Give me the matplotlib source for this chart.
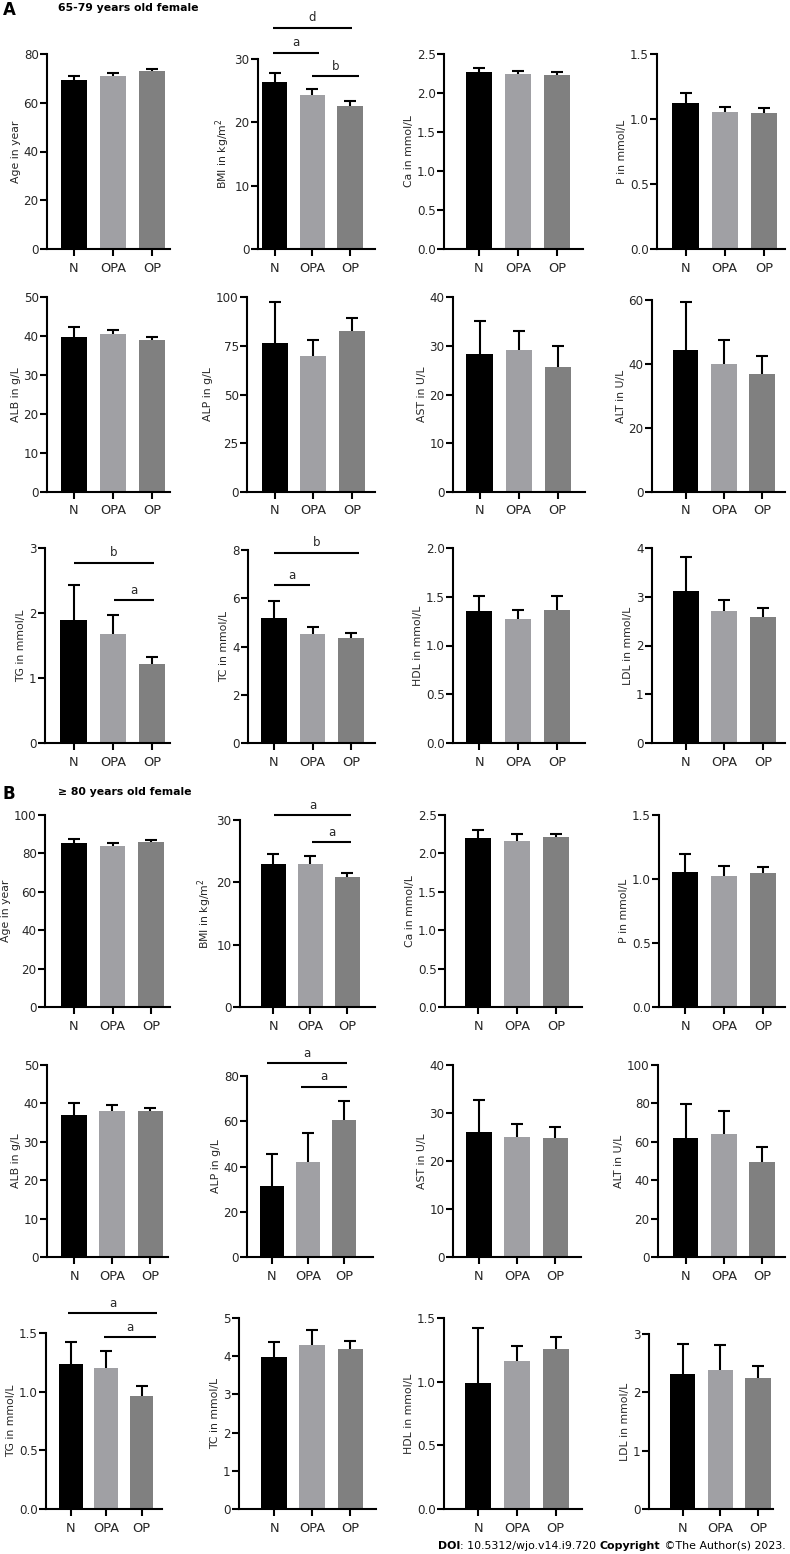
import numpy as np
import matplotlib
matplotlib.use('Agg')
import matplotlib.pyplot as plt

W, H = 790, 1554
groups = ['N', 'OPA', 'OP']
bar_colors = ['#000000', '#a0a0a4', '#808080']

# ---------------- Panel A: 65-79 years old female (mean, upper error end) ----
A_age = [69.3, 71.1, 73.2];   A_age_up = [71.1, 72.3, 74.0]
A_bmi = [26.4, 24.3, 22.6];   A_bmi_up = [27.8, 25.2, 23.4]
A_ca = [2.265, 2.244, 2.231]; A_ca_up = [2.325, 2.282, 2.269]
A_p = [1.12, 1.051, 1.044];   A_p_up = [1.20, 1.095, 1.085]
A_alb = [39.7, 40.6, 38.9];   A_alb_up = [42.3, 41.6, 39.7]
A_alp = [76.6, 69.7, 82.4];   A_alp_up = [97.4, 78.1, 89.4]
A_ast = [28.3, 29.2, 25.6];   A_ast_up = [35.1, 33.0, 29.9]
A_alt = [44.5, 40.1, 36.8];   A_alt_up = [59.3, 47.5, 42.4]
A_tg = [1.887, 1.682, 1.21];  A_tg_up = [2.426, 1.974, 1.318]
A_tc = [5.2, 4.51, 4.35];     A_tc_up = [5.88, 4.79, 4.55]
A_hdl = [1.35, 1.275, 1.368]; A_hdl_up = [1.504, 1.368, 1.504]
A_ldl = [3.125, 2.70, 2.585]; A_ldl_up = [3.815, 2.94, 2.776]

# ---------------- Panel B: >= 80 years old female ----------------------------
B_age = [85.3, 84.1, 86.0];   B_age_up = [87.6, 85.5, 87.1]
B_bmi = [22.96, 22.96, 20.8]; B_bmi_up = [24.5, 24.24, 21.46]
B_ca = [2.205, 2.162, 2.214]; B_ca_up = [2.305, 2.253, 2.253]
B_p = [1.058, 1.022, 1.048];  B_p_up = [1.193, 1.105, 1.094]
B_alb = [37.0, 37.9, 37.9];   B_alb_up = [40.0, 39.6, 38.9]
B_alp = [31.2, 42.2, 60.4];   B_alp_up = [45.6, 55.0, 69.0]
B_ast = [26.1, 25.1, 24.7];   B_ast_up = [32.8, 27.7, 27.0]
B_alt = [61.9, 63.9, 49.7];   B_alt_up = [79.5, 76.1, 57.2]
B_tg = [1.233, 1.199, 0.966]; B_tg_up = [1.423, 1.347, 1.051]
B_tc = [3.98, 4.30, 4.19];    B_tc_up = [4.365, 4.68, 4.41]
B_hdl = [0.991, 1.161, 1.257]; B_hdl_up = [1.422, 1.284, 1.354]
B_ldl = [2.31, 2.385, 2.24];  B_ldl_up = [2.83, 2.81, 2.45]

# significance bars: (start, end, height, letter)
A_bmi_sig = [(-0.04, 2.05, 34.9, 'd'), (-0.04, 1.18, 31.0, 'a'), (0.99, 2.24, 27.3, 'b')]
A_tg_sig = [(0.01, 2.05, 2.77, 'b'), (1.03, 2.05, 2.195, 'a')]
A_tc_sig = [(0.0, 2.21, 7.89, 'b'), (0.0, 0.94, 6.55, 'a')]
B_bmi_sig = [(0.03, 2.09, 30.8, 'a'), (1.05, 2.09, 26.4, 'a')]
B_alp_sig = [(-0.14, 2.08, 85.6, 'a'), (0.81, 2.08, 75.3, 'a')]
B_tg_sig = [(-0.09, 2.44, 1.67, 'a'), (0.94, 2.41, 1.466, 'a')]

# axes boxes in pixels (left, right, top, bottom) and x-limits
panels = [
    ('Age in year', A_age, A_age_up, [0, 20, 40, 60, 80], (47, 170, 54, 249), (-0.69, 2.46), None),
    ('BMI in kg/m$^2$', A_bmi, A_bmi_up, [0, 10, 20, 30], (258, 375, 59, 249), (-0.44, 2.66), A_bmi_sig),
    ('Ca in mmol/L', A_ca, A_ca_up, [0, 0.5, 1.0, 1.5, 2.0, 2.5], (444, 583, 54, 249), (-0.9, 2.67), None),
    ('P in mmol/L', A_p, A_p_up, [0, 0.5, 1.0, 1.5], (657, 785, 54, 249), (-0.73, 2.54), None),
    ('ALB in g/L', A_alb, A_alb_up, [0, 10, 20, 30, 40, 50], (47, 170, 297, 492), (-0.69, 2.46), None),
    ('ALP in g/L', A_alp, A_alp_up, [0, 25, 50, 75, 100], (247, 375, 297, 492), (-0.71, 2.59), None),
    ('AST in U/L', A_ast, A_ast_up, [0, 10, 20, 30, 40], (453, 585, 297, 492), (-0.68, 2.7), None),
    ('ALT in U/L', A_alt, A_alt_up, [0, 20, 40, 60], (652, 785, 300, 492), (-0.88, 2.6), None),
    ('TG in mmol/L', A_tg, A_tg_up, [0, 1, 2, 3], (45, 170, 548, 743), (-0.73, 2.46), A_tg_sig),
    ('TC in mmol/L', A_tc, A_tc_up, [0, 2, 4, 6, 8], (248, 375, 550, 743), (-0.675, 2.62), A_tc_sig),
    ('HDL in mmol/L', A_hdl, A_hdl_up, [0, 0.5, 1.0, 1.5, 2.0], (453, 585, 548, 743), (-0.67, 2.72), None),
    ('LDL in mmol/L', A_ldl, A_ldl_up, [0, 1, 2, 3, 4], (652, 785, 548, 743), (-0.87, 2.57), None),
    ('Age in year', B_age, B_age_up, [0, 20, 40, 60, 80, 100], (45, 170, 815, 1007), (-0.75, 2.49), None),
    ('BMI in kg/m$^2$', B_bmi, B_bmi_up, [0, 10, 20, 30], (240, 375, 820, 1007), (-0.89, 2.74), B_bmi_sig),
    ('Ca in mmol/L', B_ca, B_ca_up, [0, 0.5, 1.0, 1.5, 2.0, 2.5], (445, 582, 815, 1007), (-0.86, 2.67), None),
    ('P in mmol/L', B_p, B_p_up, [0, 0.5, 1.0, 1.5], (659, 785, 815, 1007), (-0.68, 2.57), None),
    ('ALB in g/L', B_alb, B_alb_up, [0, 10, 20, 30, 40, 50], (47, 168, 1065, 1257), (-0.71, 2.46), None),
    ('ALP in g/L', B_alp, B_alp_up, [0, 20, 40, 60, 80], (247, 373, 1076, 1257), (-0.69, 2.8), B_alp_sig),
    ('AST in U/L', B_ast, B_ast_up, [0, 10, 20, 30, 40], (453, 581, 1065, 1257), (-0.68, 2.67), None),
    ('ALT in U/L', B_alt, B_alt_up, [0, 20, 40, 60, 80, 100], (658, 785, 1065, 1257), (-0.72, 2.6), None),
    ('TG in mmol/L', B_tg, B_tg_up, [0, 0.5, 1.0, 1.5], (46, 162, 1333, 1509), (-0.71, 2.58), B_tg_sig),
    ('TC in mmol/L', B_tc, B_tc_up, [0, 1, 2, 3, 4, 5], (239, 376, 1318, 1509), (-0.92, 2.67), None),
    ('HDL in mmol/L', B_hdl, B_hdl_up, [0, 0.5, 1.0, 1.5], (444, 582, 1318, 1509), (-0.88, 2.68), None),
    ('LDL in mmol/L', B_ldl, B_ldl_up, [0, 1, 2, 3], (649, 773, 1334, 1509), (-0.89, 2.4), None),
]

plt.rcParams['font.family'] = ['DejaVu Sans']
fig = plt.figure(figsize=(W / 100, H / 100), dpi=100)
txt_col = '#262626'
lw = 1.5

for ylabel, mean, up, yticks, box, xlim, sig in panels:
    L, R, T, B = box
    ax = fig.add_axes([L / W, 1 - B / H, (R - L) / W, (B - T) / H])
    x = np.arange(len(groups))
    mean = np.asarray(mean)
    up = np.asarray(up)
    ax.bar(x, mean, width=0.67, color=bar_colors, zorder=2)
    eb = ax.errorbar(x, mean, yerr=[np.zeros_like(mean), up - mean], fmt='none',
                     ecolor='black', elinewidth=lw, capsize=4, capthick=lw, zorder=3)
    eb[1][0].set_visible(False)
    ax.set_xlim(*xlim)
    ax.set_ylim(0, yticks[-1])
    ax.set_yticks(yticks)
    if any(float(t) != int(t) for t in yticks):
        ax.set_yticklabels(['%.1f' % t for t in yticks])
    else:
        ax.set_yticklabels(['%d' % t for t in yticks])
    ax.set_xticks(x)
    ax.set_xticklabels(groups)
    for s in ['top', 'right']:
        ax.spines[s].set_visible(False)
    for s in ['left', 'bottom']:
        ax.spines[s].set_linewidth(lw)
    ax.tick_params(axis='both', length=5, width=lw, color='black')
    ax.tick_params(axis='y', labelsize=8.6, pad=1, labelcolor=txt_col)
    ax.tick_params(axis='x', labelsize=9.3, pad=4, labelcolor=txt_col)
    ax.set_ylabel(ylabel, fontsize=7.8, color=txt_col, labelpad=2)
    ax.patch.set_alpha(0)
    if sig:
        for x0, x1, yv, lab in sig:
            ax.plot([x0, x1], [yv, yv], color='black', lw=lw, clip_on=False,
                    solid_capstyle='butt')
            ax.annotate(lab, xy=((x0 + x1) / 2, yv), xytext=(0, 2.5),
                        textcoords='offset points', ha='center', va='bottom',
                        fontsize=8.5, color=txt_col, annotation_clip=False)

bg = fig.add_axes([0, 0, 1, 1], zorder=-1)
bg.axis('off')
bg.set_xlim(0, W)
bg.set_ylim(H, 0)
bg.text(3, 10, 'A', fontsize=12, fontweight='bold', va='center', ha='left')
bg.text(58, 8, '65-79 years old female', fontsize=7.8, fontweight='bold', va='center', ha='left')
bg.text(3, 794, 'B', fontsize=12, fontweight='bold', va='center', ha='left')
bg.text(58, 792, '\u2265 80 years old female', fontsize=7.8, fontweight='bold', va='center', ha='left')

fs_doi = 7.9
t1 = bg.text(438, 1549, 'DOI', fontsize=fs_doi, fontweight='bold', ha='left', va='baseline')
t2 = bg.annotate(': 10.5312/wjo.v14.i9.720 ', xy=(1, 0), xycoords=t1, fontsize=fs_doi,
                 ha='left', va='bottom')
t3 = bg.annotate('Copyright', xy=(1, 0), xycoords=t2, fontsize=fs_doi, fontweight='bold',
                 ha='left', va='bottom')
t4 = bg.annotate(' \u00a9The Author(s) 2023.', xy=(1, 0), xycoords=t3, fontsize=fs_doi,
                 ha='left', va='bottom')

fig.savefig('out.png', dpi=100)
